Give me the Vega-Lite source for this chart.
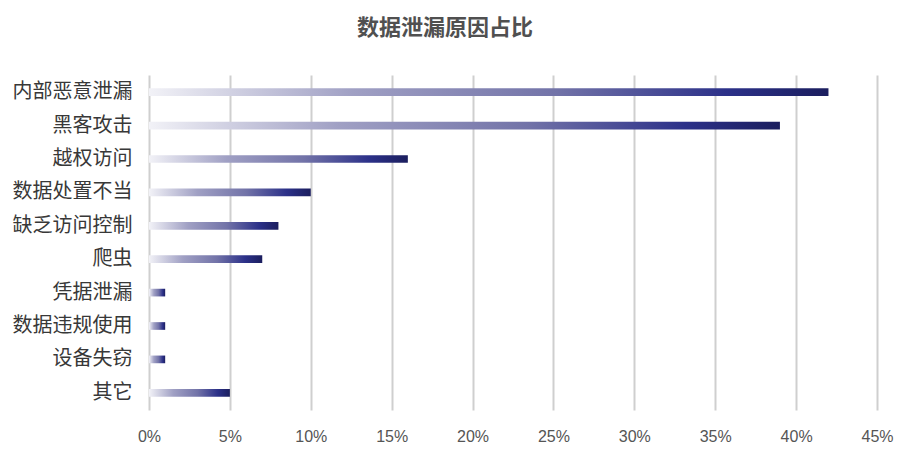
{
  "$schema": "https://vega.github.io/schema/vega-lite/v6.json",
  "width": 728,
  "height": 335,
  "autosize": "none",
  "padding": {"left": 149, "top": 75, "right": 24, "bottom": 50},
  "background": "white",
  "title": {
    "text": "数据泄漏原因占比",
    "font": "Noto Sans CJK SC",
    "fontSize": 22,
    "fontWeight": "bold",
    "color": "#505050",
    "anchor": "middle",
    "dx": -68,
    "offset": 35
  },
  "data": {
    "values": [
      {"reason": "内部恶意泄漏", "pct": 0.42},
      {"reason": "黑客攻击", "pct": 0.39},
      {"reason": "越权访问", "pct": 0.16},
      {"reason": "数据处置不当", "pct": 0.10},
      {"reason": "缺乏访问控制", "pct": 0.08},
      {"reason": "爬虫", "pct": 0.07},
      {"reason": "凭据泄漏", "pct": 0.01},
      {"reason": "数据违规使用", "pct": 0.01},
      {"reason": "设备失窃", "pct": 0.01},
      {"reason": "其它", "pct": 0.05}
    ]
  },
  "mark": {
    "type": "bar",
    "color": {
      "gradient": "linear",
      "x1": 0, "y1": 0, "x2": 1, "y2": 0,
      "stops": [
        {"offset": 0, "color": "#f2f2f7"},
        {"offset": 0.3, "color": "#a0a0c4"},
        {"offset": 0.6, "color": "#7273a8"},
        {"offset": 0.85, "color": "#2c3189"},
        {"offset": 1, "color": "#1b1e5e"}
      ]
    }
  },
  "encoding": {
    "y": {
      "field": "reason",
      "type": "nominal",
      "sort": null,
      "scale": {"paddingInner": 0.77, "paddingOuter": 0.4},
      "axis": {
        "title": null,
        "domain": false,
        "ticks": false,
        "labelFont": "Noto Sans CJK SC",
        "labelFontSize": 20,
        "labelColor": "#383838",
        "labelPadding": 17
      }
    },
    "x": {
      "field": "pct",
      "type": "quantitative",
      "scale": {"domain": [0, 0.45], "nice": false},
      "axis": {
        "title": null,
        "format": ".0%",
        "values": [0, 0.05, 0.1, 0.15, 0.2, 0.25, 0.3, 0.35, 0.4, 0.45],
        "domain": false,
        "ticks": false,
        "grid": true,
        "gridColor": "#cfcfcf",
        "gridWidth": 2,
        "labelFont": "Liberation Sans",
        "labelFontSize": 16,
        "labelColor": "#555555",
        "labelPadding": 18,
        "labelFlush": false
      }
    }
  },
  "config": {"view": {"stroke": null}}
}
